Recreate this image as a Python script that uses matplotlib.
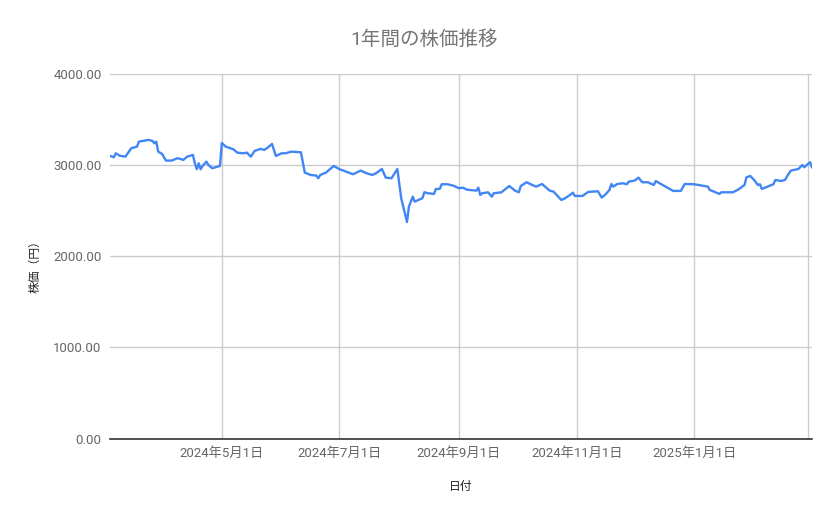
import pandas as pd
import matplotlib
matplotlib.use("Agg")
import matplotlib.pyplot as plt
from matplotlib.ticker import FuncFormatter

plt.rcParams["font.family"] = ["Roboto", "Noto Sans CJK JP", "DejaVu Sans"]

# Values
dates = [
    "2024-03-04", "2024-03-06", "2024-03-07", "2024-03-09", "2024-03-12",
    "2024-03-15", "2024-03-18", "2024-03-19", "2024-03-22", "2024-03-24",
    "2024-03-26", "2024-03-27", "2024-03-28", "2024-03-29", "2024-03-31",
    "2024-04-02", "2024-04-05", "2024-04-08", "2024-04-10", "2024-04-11",
    "2024-04-13", "2024-04-16", "2024-04-17", "2024-04-18", "2024-04-19",
    "2024-04-20", "2024-04-21", "2024-04-23", "2024-04-24", "2024-04-26",
    "2024-04-30", "2024-05-01", "2024-05-03", "2024-05-07", "2024-05-09",
    "2024-05-12", "2024-05-14", "2024-05-16", "2024-05-18", "2024-05-21",
    "2024-05-23", "2024-05-25", "2024-05-27", "2024-05-29", "2024-06-01",
    "2024-06-03", "2024-06-06", "2024-06-08", "2024-06-11", "2024-06-13",
    "2024-06-16", "2024-06-19", "2024-06-20", "2024-06-21", "2024-06-24",
    "2024-06-26", "2024-06-28", "2024-07-01", "2024-07-03", "2024-07-08",
    "2024-07-12", "2024-07-15", "2024-07-18", "2024-07-20", "2024-07-23",
    "2024-07-25", "2024-07-28", "2024-07-31", "2024-08-02", "2024-08-05",
    "2024-08-06", "2024-08-08", "2024-08-09", "2024-08-11", "2024-08-13",
    "2024-08-14", "2024-08-16", "2024-08-19", "2024-08-20", "2024-08-22",
    "2024-08-23", "2024-08-26", "2024-08-29", "2024-09-01", "2024-09-03",
    "2024-09-05", "2024-09-10", "2024-09-11", "2024-09-12", "2024-09-13",
    "2024-09-16", "2024-09-18", "2024-09-19", "2024-09-23", "2024-09-27",
    "2024-09-30", "2024-10-02", "2024-10-03", "2024-10-06", "2024-10-09",
    "2024-10-11", "2024-10-14", "2024-10-18", "2024-10-20", "2024-10-24",
    "2024-10-26", "2024-10-29", "2024-10-30", "2024-10-31", "2024-11-04",
    "2024-11-07", "2024-11-12", "2024-11-14", "2024-11-16", "2024-11-18",
    "2024-11-19", "2024-11-20", "2024-11-22", "2024-11-25", "2024-11-27",
    "2024-11-28", "2024-12-01", "2024-12-03", "2024-12-05", "2024-12-08",
    "2024-12-09", "2024-12-11", "2024-12-12", "2024-12-14", "2024-12-20",
    "2024-12-21", "2024-12-25", "2024-12-27", "2025-01-01", "2025-01-06",
    "2025-01-08", "2025-01-09", "2025-01-14", "2025-01-15", "2025-01-21",
    "2025-01-24", "2025-01-27", "2025-01-28", "2025-01-30", "2025-02-01",
    "2025-02-03", "2025-02-04", "2025-02-05", "2025-02-11", "2025-02-12",
    "2025-02-15", "2025-02-17", "2025-02-18", "2025-02-20", "2025-02-24",
    "2025-02-26", "2025-02-27", "2025-03-02", "2025-03-03",
]
prices = [
    3101, 3087, 3130, 3104, 3093,
    3185, 3203, 3258, 3269, 3277,
    3266, 3240, 3258, 3148, 3123,
    3050, 3050, 3076, 3065, 3057,
    3093, 3112, 3021, 2955, 3021,
    2955, 2991, 3038, 3002, 2966,
    2991, 3243, 3203, 3174, 3137,
    3130, 3137, 3093, 3156, 3178,
    3167, 3196, 3233, 3101, 3130,
    3130, 3148, 3145, 3141, 2918,
    2892, 2885, 2856, 2892, 2918,
    2955, 2991, 2955, 2940, 2900,
    2940, 2911, 2892, 2911, 2958,
    2863, 2856, 2958, 2637, 2376,
    2545, 2654, 2600, 2618, 2637,
    2702, 2691, 2684, 2739, 2739,
    2790, 2790, 2775, 2746, 2753,
    2731, 2720, 2753, 2673, 2691,
    2702, 2654, 2691, 2702, 2771,
    2720, 2702, 2771, 2812, 2782,
    2764, 2793, 2720, 2709, 2618,
    2637, 2680, 2698, 2662, 2662,
    2706, 2713, 2643, 2680, 2728,
    2793, 2764, 2793, 2801, 2790,
    2819, 2830, 2863, 2812, 2812,
    2801, 2782, 2826, 2801, 2728,
    2717, 2717, 2793, 2790, 2771,
    2764, 2728, 2684, 2702, 2702,
    2735, 2782, 2866, 2881, 2837,
    2782, 2790, 2739, 2790, 2837,
    2826, 2837, 2874, 2940, 2958,
    3002, 2977, 3032, 2977,
]
tick_dates = ["2024-05-01", "2024-07-01", "2024-09-01", "2024-11-01", "2025-01-01", "2025-03-01"]
tick_labels = ["2024年5月1日", "2024年7月1日", "2024年9月1日", "2024年11月1日", "2025年1月1日", ""]
y_ticks = [0, 1000, 2000, 3000, 4000]

df = pd.DataFrame({"date": pd.to_datetime(dates), "price": prices})

fig = plt.figure(figsize=(8.39, 5.19), dpi=100)
ax = fig.add_axes([0.1311, 0.1551, 0.8367, 0.7023])

ax.plot(df["date"], df["price"], color="#4285f4", linewidth=1.7, solid_joinstyle="round")

ax.set_xlim(df["date"].min(), df["date"].max())
ax.set_ylim(0, 4000)
ax.set_yticks(y_ticks)
ax.yaxis.set_major_formatter(FuncFormatter(lambda v, p: f"{v:.2f}"))
ax.set_xticks(pd.to_datetime(tick_dates))
ax.set_xticklabels(tick_labels)

ax.grid(True, color="#cccccc", linewidth=1)
ax.set_axisbelow(True)
for side in ["top", "right", "left"]:
    ax.spines[side].set_visible(False)
ax.spines["bottom"].set_color("#333333")
ax.spines["bottom"].set_linewidth(1.2)
ax.spines["bottom"].set_zorder(3)
ax.tick_params(axis="both", length=0, labelsize=9.5, labelcolor="#666666")
ax.tick_params(axis="x", pad=6)
ax.tick_params(axis="y", pad=6)

fig.text(0.505, 0.923, "1年間の株価推移", ha="center", va="center",
         fontsize=14, color="#757575")
fig.text(0.5495, 0.062, "日付", ha="center", va="center", fontsize=8.5, color="#222222")
fig.text(0.042, 0.493, "株価（円）", ha="center", va="center", rotation=90,
         fontsize=8.5, color="#222222")

fig.savefig("out.png", dpi=100)
